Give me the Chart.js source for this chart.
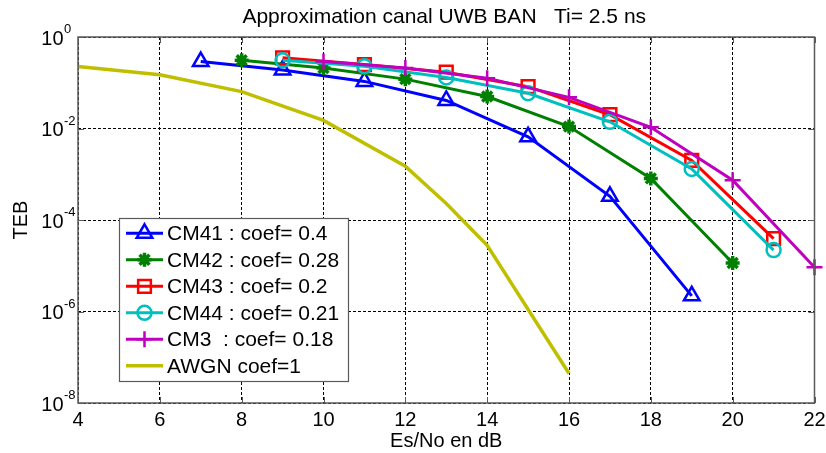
<!DOCTYPE html>
<html>
<head>
<meta charset="utf-8">
<script src="https://cdn.jsdelivr.net/npm/chart.js@4/dist/chart.umd.min.js"></script>
<style>
  html, body { margin: 0; padding: 0; background: #fff; }
  #wrap { width: 826px; height: 453px; }
</style>
</head>
<body>
<div id="wrap"><canvas id="teb" width="826" height="453"></canvas></div>
<script>
// --- DATA ---
const X_41 = [7, 9, 11, 13, 15, 17, 19];
const CM41 = [0.29, 0.19, 0.107, 0.041, 0.0066, 3.3e-4, 2.2e-6];

const X_42 = [8, 10, 12, 14, 16, 18, 20];
const CM42 = [0.31, 0.21, 0.12, 0.050, 0.011, 8.1e-4, 1.15e-5];

const X_43 = [9, 11, 13, 15, 17, 19, 21];
const CM43 = [0.35, 0.25, 0.17, 0.082, 0.020, 0.0020, 3.9e-5];
const CM44 = [0.31, 0.23, 0.13, 0.059, 0.014, 0.0013, 2.2e-5];

const X_3 = [10, 12, 14, 16, 18, 20, 22];
const CM3 = [0.29, 0.21, 0.126, 0.048, 0.0106, 7.4e-4, 9.3e-6];

const X_AWGN = [4, 6, 8, 10, 12, 13, 14, 16];
const AWGN = [0.227, 0.15, 0.064, 0.015, 0.0015, 2.3e-4, 2.8e-5, 4.4e-8];

const X_TICKS = [4, 6, 8, 10, 12, 14, 16, 18, 20, 22];
const Y_EXPONENTS = [0, -2, -4, -6, -8];

const TITLE = 'Approximation canal UWB BAN   Ti= 2.5 ns';
const X_LABEL = 'Es/No en dB';
const Y_LABEL = 'TEB';

const FONT = '"Liberation Sans", Arial, Helvetica, sans-serif';

// --- SERIES ---
const series = [
    { label: 'CM41 : coef= 0.4',  xs: X_41, ys: CM41, color: '#0000ff', style: 'triangle', radius: 9, bw: 2.5 },
    { label: 'CM42 : coef= 0.28', xs: X_42, ys: CM42, color: '#008000', style: 'star', radius: 7, bw: 3.5 },
    { label: 'CM43 : coef= 0.2',  xs: X_43, ys: CM43, color: '#ff0000', style: 'rect', radius: 9, bw: 2.5 },
    { label: 'CM44 : coef= 0.21', xs: X_43, ys: CM44, color: '#00bfbf', style: 'circle', radius: 7, bw: 2.5 },
    { label: 'CM3  : coef= 0.18', xs: X_3,  ys: CM3,  color: '#bf00bf', style: 'cross', radius: 8, bw: 2.5 },
    { label: 'AWGN coef=1',       xs: X_AWGN, ys: AWGN, color: '#bfbf00', style: false, radius: 0, bw: 0 },
];

// later series drawn on top, as in the original figure
const datasets = series.map((s, i) => ({
    label: s.label,
    data: s.xs.map((x, k) => ({ x, y: s.ys[k] })),
    order: -i,
    borderColor: s.color,
    borderWidth: s.style ? 3 : 3.5,
    pointStyle: s.style,
    pointRadius: s.radius,
    pointBorderWidth: s.bw,
    pointBorderColor: s.color,
    pointBackgroundColor: 'rgba(0,0,0,0)',
    tension: 0,
    clip: false,
}));

// --- PLUGIN: title, box, inward ticks, y labels with exponents, legend ---
const decorPlugin = {
    id: 'decor',
    afterDraw(chart) {
        const { ctx, chartArea: a, scales } = chart;
        ctx.save();

        // title centred over the axes
        ctx.fillStyle = '#000';
        ctx.font = '21px ' + FONT;
        ctx.textAlign = 'center';
        ctx.textBaseline = 'alphabetic';
        ctx.fillText(TITLE, (a.left + a.right) / 2 - 2, 23);

        // axis box
        ctx.strokeStyle = '#5a5a5a';
        ctx.lineWidth = 1.5;
        ctx.setLineDash([]);
        ctx.strokeRect(a.left, a.top, a.right - a.left, a.bottom - a.top);

        // inward tick marks
        ctx.lineWidth = 1;
        ctx.beginPath();
        X_TICKS.forEach(v => {
            const px = Math.round(scales.x.getPixelForValue(v)) + 0.5;
            ctx.moveTo(px, a.bottom); ctx.lineTo(px, a.bottom - 6);
            ctx.moveTo(px, a.top); ctx.lineTo(px, a.top + 6);
        });
        Y_EXPONENTS.forEach(e => {
            const py = Math.round(scales.y.getPixelForValue(Math.pow(10, e))) + 0.5;
            ctx.moveTo(a.left, py); ctx.lineTo(a.left + 6, py);
            ctx.moveTo(a.right, py); ctx.lineTo(a.right - 6, py);
        });
        ctx.stroke();

        // y tick labels: 10 with superscript exponent
        ctx.fillStyle = '#000';
        Y_EXPONENTS.forEach(e => {
            const py = scales.y.getPixelForValue(Math.pow(10, e));
            ctx.font = '20px ' + FONT;
            ctx.textAlign = 'right';
            ctx.fillText('10', 63.5, py + 7.5);
            ctx.font = '13px ' + FONT;
            ctx.textAlign = 'left';
            ctx.fillText(String(e), 64, py - 4);
        });

        // legend
        const box = { x: 119.5, y: 218.5, w: 229, h: 163 };
        ctx.fillStyle = '#fff';
        ctx.fillRect(box.x, box.y, box.w, box.h);
        ctx.strokeStyle = '#5a5a5a';
        ctx.lineWidth = 1.2;
        ctx.strokeRect(box.x, box.y, box.w, box.h);

        series.forEach((s, i) => {
            const y = 233.3 + i * 26.5;
            ctx.strokeStyle = s.color;
            ctx.lineWidth = s.style ? 3 : 3.5;
            ctx.beginPath();
            ctx.moveTo(126, y); ctx.lineTo(163, y);
            ctx.stroke();
            if (s.style) {
                ctx.fillStyle = 'rgba(0,0,0,0)';
                ctx.lineWidth = s.bw;
                Chart.helpers.drawPoint(ctx, { pointStyle: s.style, radius: s.radius, rotation: 0, borderWidth: s.bw }, 144.5, y);
            }
            ctx.fillStyle = '#000';
            ctx.font = '21px ' + FONT;
            ctx.textAlign = 'left';
            ctx.textBaseline = 'alphabetic';
            ctx.fillText(s.label, 167, y + 7);
        });

        ctx.restore();
    }
};

// --- CHART ---
new Chart(document.getElementById('teb'), {
    type: 'line',
    data: { datasets },
    plugins: [decorPlugin],
    options: {
        responsive: false,
        animation: false,
        devicePixelRatio: 1,
        layout: { padding: { top: 37, right: 11, left: 0, bottom: 0 } },
        plugins: {
            legend: { display: false },
            tooltip: { enabled: false },
            title: { display: false },
        },
        scales: {
            x: {
                type: 'linear',
                min: 4,
                max: 22,
                afterBuildTicks: scale => { scale.ticks = X_TICKS.map(v => ({ value: v })); },
                afterFit: scale => { scale.height = 50; scale.paddingLeft = 0; scale.paddingRight = 0; },
                ticks: { color: '#000', font: { family: FONT, size: 20 }, padding: 5, maxRotation: 0 },
                grid: { color: '#000', lineWidth: 1, drawTicks: false },
                border: { display: false, dash: [3, 2] },
                title: { display: true, text: X_LABEL, color: '#000', font: { family: FONT, size: 20 }, padding: 0 },
            },
            y: {
                type: 'logarithmic',
                min: 1e-8,
                max: 1,
                afterBuildTicks: scale => { scale.ticks = Y_EXPONENTS.map(e => ({ value: Math.pow(10, e) })); },
                afterFit: scale => { scale.width = 78; },
                ticks: { display: false },
                grid: { color: '#000', lineWidth: 1, drawTicks: false },
                border: { display: false, dash: [3, 2] },
                title: { display: true, text: Y_LABEL, color: '#000', font: { family: FONT, size: 20 }, padding: { top: 9, bottom: 0 } },
            },
        },
    },
});
</script>
</body>
</html>
